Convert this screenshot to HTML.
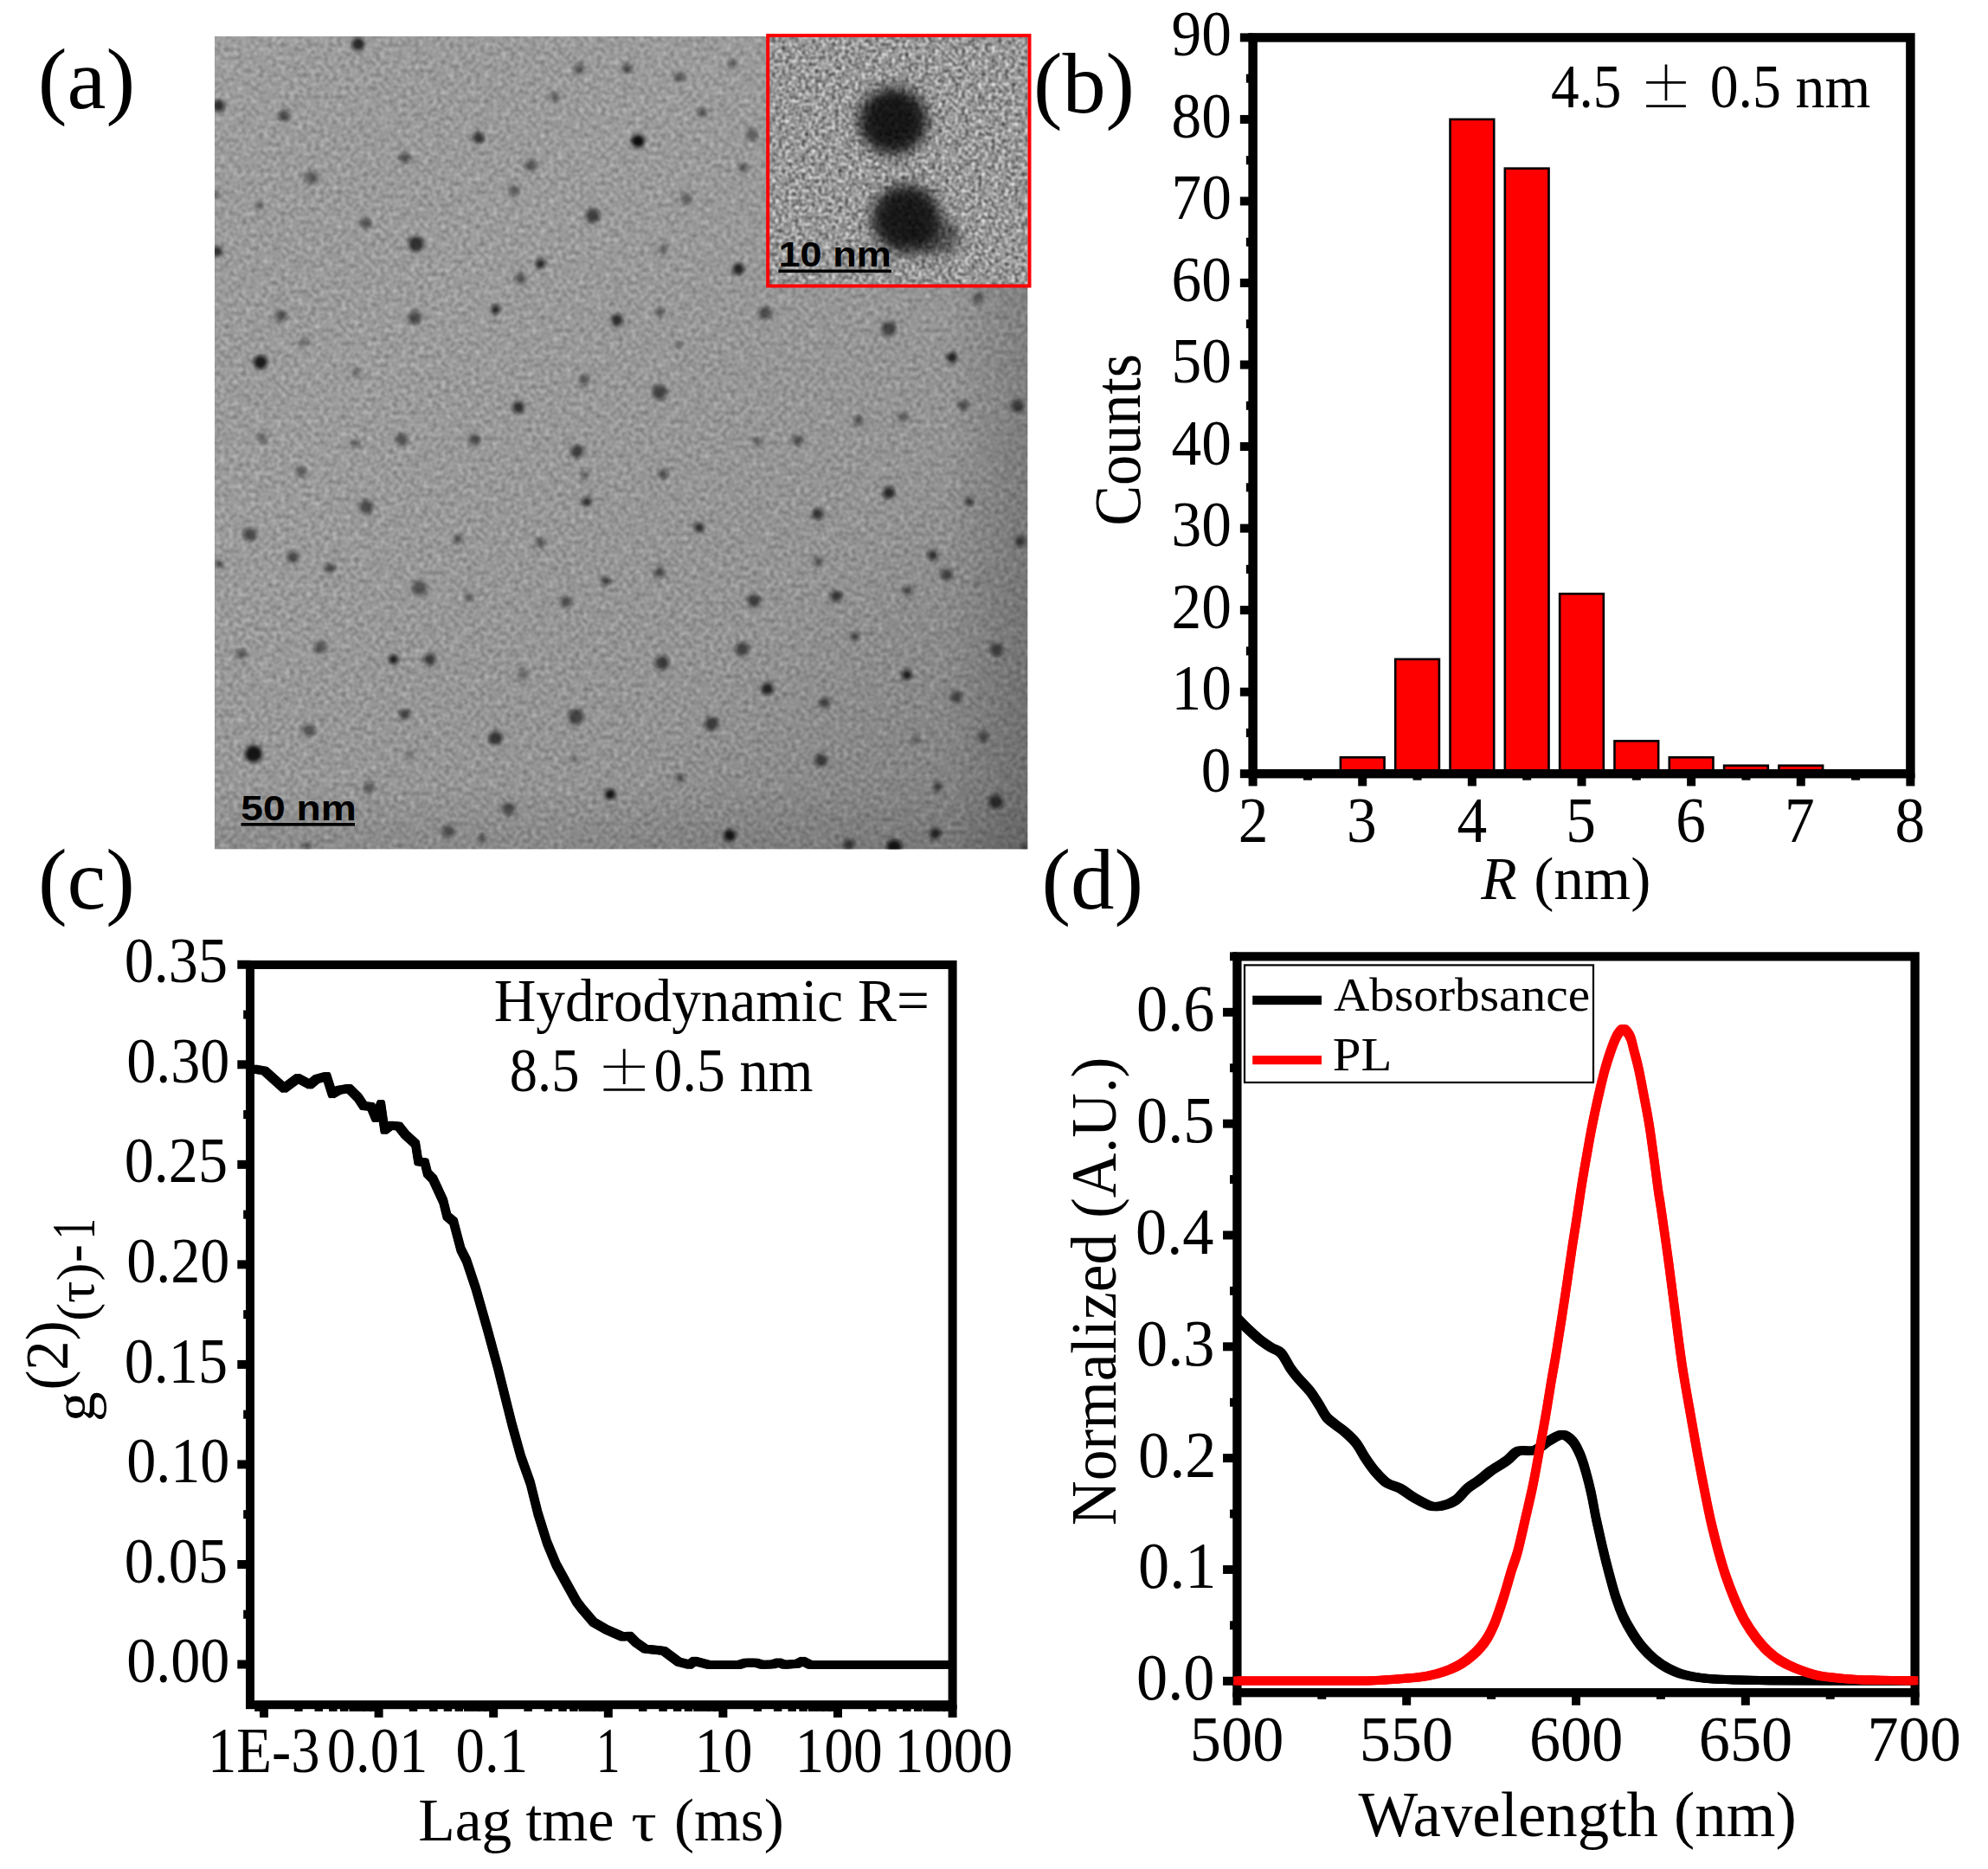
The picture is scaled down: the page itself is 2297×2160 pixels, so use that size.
<!DOCTYPE html>
<html lang="en"><head><meta charset="utf-8"><title>Figure</title>
<style>html,body{margin:0;padding:0;background:#fff}body{width:2297px;height:2160px;overflow:hidden}svg{display:block}</style>
</head><body>
<svg width="2297" height="2160" viewBox="0 0 2297 2160" font-family='"Liberation Serif", "DejaVu Serif", serif' fill="#000">
<defs>
<filter id="nz" x="0" y="0" width="100%" height="100%" color-interpolation-filters="sRGB">
<feTurbulence type="fractalNoise" baseFrequency="0.2" numOctaves="2" seed="7"/>
<feColorMatrix type="matrix" values="1.1 0 0 0 0.035  1.1 0 0 0 0.035  1.1 0 0 0 0.035  0 0 0 0 1"/>
<feGaussianBlur stdDeviation="0.8"/>
</filter>
<filter id="nz2" x="0" y="0" width="100%" height="100%" color-interpolation-filters="sRGB">
<feTurbulence type="fractalNoise" baseFrequency="0.26" numOctaves="2" seed="3"/>
<feColorMatrix type="matrix" values="1.25 0 0 0 -0.03  1.25 0 0 0 -0.03  1.25 0 0 0 -0.03  0 0 0 0 1"/>
<feGaussianBlur stdDeviation="1.0"/>
</filter>
<filter id="b1" x="-50%" y="-50%" width="200%" height="200%"><feGaussianBlur stdDeviation="1.9"/></filter>
<filter id="b2" x="-50%" y="-50%" width="200%" height="200%"><feGaussianBlur stdDeviation="7.5"/></filter>
<linearGradient id="vg" x1="0" y1="0" x2="1" y2="1">
<stop offset="0" stop-color="#fff" stop-opacity="0.03"/><stop offset="0.3" stop-color="#000" stop-opacity="0"/><stop offset="0.7" stop-color="#000" stop-opacity="0.05"/><stop offset="1" stop-color="#000" stop-opacity="0.2"/>
</linearGradient>
<linearGradient id="vg2" x1="0" y1="0" x2="1" y2="0">
<stop offset="0.9" stop-color="#000" stop-opacity="0"/><stop offset="1" stop-color="#000" stop-opacity="0.14"/>
</linearGradient>
<linearGradient id="vg3" x1="0" y1="0" x2="0" y2="1">
<stop offset="0.92" stop-color="#000" stop-opacity="0"/><stop offset="1" stop-color="#000" stop-opacity="0.08"/>
</linearGradient>
<clipPath id="ct"><rect x="248" y="42" width="939.5" height="939.5"/></clipPath>
<clipPath id="ci"><rect x="889" y="43" width="298.5" height="286"/></clipPath>
</defs>
<rect width="2297" height="2160" fill="#fff"/>
<g clip-path="url(#ct)">
<rect x="248.0" y="42.0" width="939.5" height="939.5" fill="#9f9f9f"/>
<rect x="248.0" y="42.0" width="939.5" height="939.5" filter="url(#nz)" opacity="0.38"/>
<rect x="248.0" y="42.0" width="939.5" height="939.5" fill="url(#vg)"/>
<rect x="248.0" y="42.0" width="939.5" height="939.5" fill="url(#vg2)"/>
<rect x="248.0" y="42.0" width="939.5" height="939.5" fill="url(#vg3)"/>
<g filter="url(#b1)">
<circle cx="413.9" cy="50.9" r="7.5" fill="#111" fill-opacity="0.82"/>
<circle cx="668.8" cy="80.0" r="6.2" fill="#111" fill-opacity="0.50"/>
<circle cx="724.8" cy="79.5" r="5.5" fill="#111" fill-opacity="0.36"/>
<circle cx="640.7" cy="112.1" r="5.7" fill="#111" fill-opacity="0.46"/>
<circle cx="252.8" cy="122.3" r="7.0" fill="#111" fill-opacity="0.77"/>
<circle cx="328.3" cy="133.8" r="6.7" fill="#111" fill-opacity="0.59"/>
<circle cx="553.0" cy="159.2" r="6.7" fill="#111" fill-opacity="0.73"/>
<circle cx="736.3" cy="163.0" r="7.0" fill="#111" fill-opacity="0.91"/>
<circle cx="467.9" cy="182.5" r="6.2" fill="#111" fill-opacity="0.55"/>
<circle cx="613.7" cy="191.3" r="7.0" fill="#111" fill-opacity="0.50"/>
<circle cx="359.9" cy="205.2" r="7.5" fill="#111" fill-opacity="0.50"/>
<circle cx="593.9" cy="220.7" r="6.2" fill="#111" fill-opacity="0.50"/>
<circle cx="299.4" cy="238.1" r="5.0" fill="#111" fill-opacity="0.32"/>
<circle cx="684.9" cy="249.4" r="8.2" fill="#111" fill-opacity="0.68"/>
<circle cx="422.7" cy="257.9" r="6.0" fill="#111" fill-opacity="0.59"/>
<circle cx="480.8" cy="282.0" r="9.0" fill="#111" fill-opacity="0.77"/>
<circle cx="250.7" cy="290.8" r="6.2" fill="#111" fill-opacity="0.77"/>
<circle cx="624.4" cy="304.7" r="5.7" fill="#111" fill-opacity="0.82"/>
<circle cx="601.2" cy="321.6" r="6.7" fill="#111" fill-opacity="0.50"/>
<circle cx="572.5" cy="357.7" r="5.5" fill="#111" fill-opacity="0.82"/>
<circle cx="324.5" cy="364.9" r="6.7" fill="#111" fill-opacity="0.55"/>
<circle cx="479.4" cy="367.1" r="8.0" fill="#111" fill-opacity="0.59"/>
<circle cx="713.0" cy="370.3" r="7.0" fill="#111" fill-opacity="0.50"/>
<circle cx="351.0" cy="395.2" r="5.0" fill="#111" fill-opacity="0.41"/>
<circle cx="301.0" cy="418.7" r="8.0" fill="#111" fill-opacity="0.91"/>
<circle cx="411.2" cy="430.7" r="4.5" fill="#111" fill-opacity="0.46"/>
<circle cx="675.5" cy="438.8" r="6.2" fill="#111" fill-opacity="0.50"/>
<circle cx="599.0" cy="470.9" r="7.0" fill="#111" fill-opacity="0.77"/>
<circle cx="303.4" cy="506.2" r="5.5" fill="#111" fill-opacity="0.46"/>
<circle cx="464.2" cy="508.1" r="7.0" fill="#111" fill-opacity="0.55"/>
<circle cx="411.2" cy="512.3" r="5.0" fill="#111" fill-opacity="0.46"/>
<circle cx="548.2" cy="508.3" r="6.7" fill="#111" fill-opacity="0.59"/>
<circle cx="666.7" cy="521.7" r="7.5" fill="#111" fill-opacity="0.68"/>
<circle cx="341.7" cy="78.2" r="2.5" fill="#111" fill-opacity="0.32"/>
<circle cx="249.4" cy="225.3" r="3.7" fill="#111" fill-opacity="0.50"/>
<circle cx="724.6" cy="79.5" r="5.5" fill="#111" fill-opacity="0.41"/>
<circle cx="785.1" cy="88.9" r="6.2" fill="#111" fill-opacity="0.50"/>
<circle cx="846.6" cy="73.6" r="5.0" fill="#111" fill-opacity="0.46"/>
<circle cx="811.6" cy="129.8" r="5.5" fill="#111" fill-opacity="0.50"/>
<circle cx="737.5" cy="163.0" r="7.5" fill="#111" fill-opacity="0.91"/>
<circle cx="869.1" cy="155.7" r="7.0" fill="#111" fill-opacity="0.46"/>
<circle cx="858.6" cy="193.2" r="5.0" fill="#111" fill-opacity="0.55"/>
<circle cx="793.1" cy="229.3" r="6.5" fill="#111" fill-opacity="0.46"/>
<circle cx="766.3" cy="287.6" r="5.5" fill="#111" fill-opacity="0.41"/>
<circle cx="853.3" cy="310.9" r="6.7" fill="#111" fill-opacity="0.86"/>
<circle cx="762.9" cy="360.4" r="5.0" fill="#111" fill-opacity="0.50"/>
<circle cx="712.8" cy="369.8" r="7.0" fill="#111" fill-opacity="0.55"/>
<circle cx="884.1" cy="361.7" r="7.5" fill="#111" fill-opacity="0.59"/>
<circle cx="784.5" cy="398.6" r="4.0" fill="#111" fill-opacity="0.41"/>
<circle cx="1130.7" cy="344.3" r="7.0" fill="#111" fill-opacity="0.46"/>
<circle cx="1026.9" cy="379.9" r="8.7" fill="#111" fill-opacity="0.64"/>
<circle cx="1099.9" cy="413.1" r="6.2" fill="#111" fill-opacity="0.86"/>
<circle cx="762.1" cy="453.2" r="8.7" fill="#111" fill-opacity="0.64"/>
<circle cx="1113.3" cy="468.7" r="6.2" fill="#111" fill-opacity="0.55"/>
<circle cx="1175.7" cy="469.5" r="7.5" fill="#111" fill-opacity="0.68"/>
<circle cx="992.1" cy="486.1" r="5.5" fill="#111" fill-opacity="0.55"/>
<circle cx="1043.2" cy="481.6" r="5.5" fill="#111" fill-opacity="0.50"/>
<circle cx="875.2" cy="510.2" r="5.0" fill="#111" fill-opacity="0.46"/>
<circle cx="921.5" cy="508.9" r="6.2" fill="#111" fill-opacity="0.55"/>
<circle cx="347.8" cy="544.9" r="6.0" fill="#111" fill-opacity="0.50"/>
<circle cx="676.1" cy="549.5" r="4.5" fill="#111" fill-opacity="0.46"/>
<circle cx="677.9" cy="579.5" r="5.5" fill="#111" fill-opacity="0.77"/>
<circle cx="423.3" cy="586.1" r="8.2" fill="#111" fill-opacity="0.59"/>
<circle cx="289.0" cy="617.7" r="8.0" fill="#111" fill-opacity="0.59"/>
<circle cx="529.5" cy="623.1" r="5.5" fill="#111" fill-opacity="0.50"/>
<circle cx="624.4" cy="627.1" r="5.0" fill="#111" fill-opacity="0.59"/>
<circle cx="338.4" cy="643.9" r="7.0" fill="#111" fill-opacity="0.59"/>
<circle cx="253.4" cy="651.7" r="5.0" fill="#111" fill-opacity="0.55"/>
<circle cx="381.3" cy="656.5" r="6.0" fill="#111" fill-opacity="0.59"/>
<circle cx="699.3" cy="671.2" r="5.5" fill="#111" fill-opacity="0.50"/>
<circle cx="484.8" cy="679.8" r="8.7" fill="#111" fill-opacity="0.55"/>
<circle cx="541.8" cy="690.7" r="5.0" fill="#111" fill-opacity="0.50"/>
<circle cx="654.1" cy="695.8" r="6.7" fill="#111" fill-opacity="0.55"/>
<circle cx="278.8" cy="756.0" r="6.0" fill="#111" fill-opacity="0.50"/>
<circle cx="370.3" cy="748.0" r="7.0" fill="#111" fill-opacity="0.55"/>
<circle cx="454.8" cy="762.2" r="5.5" fill="#111" fill-opacity="0.91"/>
<circle cx="496.8" cy="762.2" r="7.0" fill="#111" fill-opacity="0.68"/>
<circle cx="603.8" cy="779.0" r="6.0" fill="#111" fill-opacity="0.41"/>
<circle cx="467.4" cy="825.6" r="6.0" fill="#111" fill-opacity="0.68"/>
<circle cx="665.4" cy="828.5" r="9.0" fill="#111" fill-opacity="0.64"/>
<circle cx="356.9" cy="843.8" r="7.5" fill="#111" fill-opacity="0.50"/>
<circle cx="572.5" cy="853.1" r="8.0" fill="#111" fill-opacity="0.73"/>
<circle cx="293.0" cy="871.3" r="10.0" fill="#111" fill-opacity="0.95"/>
<circle cx="472.7" cy="871.3" r="5.0" fill="#111" fill-opacity="0.28"/>
<circle cx="664.0" cy="877.2" r="4.5" fill="#111" fill-opacity="0.32"/>
<circle cx="426.7" cy="910.1" r="6.5" fill="#111" fill-opacity="0.50"/>
<circle cx="705.0" cy="918.1" r="6.2" fill="#111" fill-opacity="0.77"/>
<circle cx="587.8" cy="934.7" r="7.5" fill="#111" fill-opacity="0.59"/>
<circle cx="518.2" cy="960.7" r="7.0" fill="#111" fill-opacity="0.55"/>
<circle cx="557.0" cy="968.2" r="5.0" fill="#111" fill-opacity="0.50"/>
<circle cx="354.5" cy="977.5" r="4.5" fill="#111" fill-opacity="0.46"/>
<circle cx="766.1" cy="548.2" r="5.5" fill="#111" fill-opacity="0.59"/>
<circle cx="1026.9" cy="569.6" r="7.0" fill="#111" fill-opacity="0.82"/>
<circle cx="1120.0" cy="579.5" r="5.0" fill="#111" fill-opacity="0.68"/>
<circle cx="944.8" cy="594.2" r="6.7" fill="#111" fill-opacity="0.73"/>
<circle cx="807.8" cy="609.7" r="5.7" fill="#111" fill-opacity="0.77"/>
<circle cx="1178.9" cy="625.7" r="6.5" fill="#111" fill-opacity="0.64"/>
<circle cx="1077.7" cy="641.8" r="6.0" fill="#111" fill-opacity="0.73"/>
<circle cx="945.3" cy="649.0" r="5.5" fill="#111" fill-opacity="0.50"/>
<circle cx="762.1" cy="661.3" r="6.5" fill="#111" fill-opacity="0.55"/>
<circle cx="1093.8" cy="664.0" r="7.0" fill="#111" fill-opacity="0.64"/>
<circle cx="702.1" cy="671.2" r="3.7" fill="#111" fill-opacity="0.50"/>
<circle cx="1048.6" cy="682.5" r="6.0" fill="#111" fill-opacity="0.55"/>
<circle cx="966.2" cy="689.1" r="6.7" fill="#111" fill-opacity="0.73"/>
<circle cx="871.2" cy="694.0" r="7.5" fill="#111" fill-opacity="0.68"/>
<circle cx="987.6" cy="735.4" r="5.0" fill="#111" fill-opacity="0.64"/>
<circle cx="857.8" cy="750.1" r="8.0" fill="#111" fill-opacity="0.64"/>
<circle cx="1151.6" cy="750.7" r="7.5" fill="#111" fill-opacity="0.64"/>
<circle cx="765.0" cy="766.2" r="8.2" fill="#111" fill-opacity="0.68"/>
<circle cx="1047.8" cy="780.1" r="5.7" fill="#111" fill-opacity="0.91"/>
<circle cx="886.7" cy="796.1" r="7.0" fill="#111" fill-opacity="0.86"/>
<circle cx="1104.8" cy="805.5" r="7.0" fill="#111" fill-opacity="0.59"/>
<circle cx="952.8" cy="812.2" r="6.2" fill="#111" fill-opacity="0.64"/>
<circle cx="822.3" cy="836.5" r="8.0" fill="#111" fill-opacity="0.68"/>
<circle cx="1136.1" cy="851.3" r="6.5" fill="#111" fill-opacity="0.55"/>
<circle cx="1057.7" cy="855.0" r="5.0" fill="#111" fill-opacity="0.41"/>
<circle cx="948.8" cy="878.5" r="7.5" fill="#111" fill-opacity="0.68"/>
<circle cx="785.1" cy="899.1" r="5.0" fill="#111" fill-opacity="0.55"/>
<circle cx="1083.4" cy="909.3" r="5.5" fill="#111" fill-opacity="0.64"/>
<circle cx="705.4" cy="918.1" r="6.0" fill="#111" fill-opacity="0.82"/>
<circle cx="1150.8" cy="926.7" r="8.2" fill="#111" fill-opacity="0.77"/>
<circle cx="843.1" cy="965.5" r="7.0" fill="#111" fill-opacity="0.95"/>
<circle cx="1080.7" cy="963.3" r="6.5" fill="#111" fill-opacity="0.82"/>
<circle cx="980.9" cy="976.2" r="6.5" fill="#111" fill-opacity="0.68"/>
<circle cx="1033.1" cy="978.9" r="8.7" fill="#111" fill-opacity="0.95"/>
<circle cx="1183.7" cy="978.9" r="3.7" fill="#111" fill-opacity="0.68"/>
<circle cx="1130.7" cy="675.2" r="3.0" fill="#111" fill-opacity="0.32"/>
</g></g>
<g clip-path="url(#ci)">
<rect x="889" y="43" width="298.5" height="286" filter="url(#nz2)"/>
<g filter="url(#b2)" fill="#000"><ellipse cx="1032" cy="140" rx="40" ry="39" fill-opacity="0.97"/><ellipse cx="1031" cy="139" rx="24" ry="24" fill-opacity="0.6"/><ellipse cx="1047" cy="253" rx="40" ry="40" fill-opacity="0.95"/><ellipse cx="1045" cy="252" rx="24" ry="24" fill-opacity="0.6"/><ellipse cx="1080" cy="274" rx="30" ry="22" fill-opacity="0.55"/></g>
<rect x="889" y="43" width="298.5" height="286" filter="url(#nz2)" opacity="0.14"/>
</g>
<rect x="887.2" y="41" width="302.3" height="289.5" fill="none" stroke="#f00" stroke-width="4"/>
<text transform="translate(278.19 947.90) scale(1.1559 1)" font-size="40" font-family='"Liberation Sans", "DejaVu Sans", sans-serif' font-weight='bold'>50 nm</text>
<rect x="278.5" y="951" width="131.5" height="3.6" fill="#000"/>
<text transform="translate(899.41 308.00) scale(1.1291 1)" font-size="40" font-family='"Liberation Sans", "DejaVu Sans", sans-serif' font-weight='bold'>10 nm</text>
<rect x="899.5" y="311.5" width="130.5" height="3.6" fill="#000"/>
<text transform="translate(43.73 125.40) scale(1.0186 1)" font-size="99.5" >(a)</text>
<text transform="translate(1193.96 130.10) scale(1.0093 1)" font-size="99.5" >(b)</text>
<text transform="translate(43.95 1050.20) scale(1.0137 1)" font-size="99.5" >(c)</text>
<text transform="translate(1203.44 1050.20) scale(1.0139 1)" font-size="99.5" >(d)</text>
<rect x="1548.88" y="875.29" width="50.7" height="18.91" fill="#f00" stroke="#000" stroke-width="2.6"/>
<rect x="1612.20" y="761.85" width="50.7" height="132.35" fill="#f00" stroke="#000" stroke-width="2.6"/>
<rect x="1675.52" y="137.93" width="50.7" height="756.27" fill="#f00" stroke="#000" stroke-width="2.6"/>
<rect x="1738.83" y="194.65" width="50.7" height="699.55" fill="#f00" stroke="#000" stroke-width="2.6"/>
<rect x="1802.15" y="686.23" width="50.7" height="207.97" fill="#f00" stroke="#000" stroke-width="2.6"/>
<rect x="1865.47" y="856.39" width="50.7" height="37.81" fill="#f00" stroke="#000" stroke-width="2.6"/>
<rect x="1928.78" y="875.29" width="50.7" height="18.91" fill="#f00" stroke="#000" stroke-width="2.6"/>
<rect x="1992.10" y="884.75" width="50.7" height="9.45" fill="#f00" stroke="#000" stroke-width="2.6"/>
<rect x="2055.42" y="884.75" width="50.7" height="9.45" fill="#f00" stroke="#000" stroke-width="2.6"/>
<rect x="1447.6" y="43.4" width="759.8000000000002" height="850.8000000000001" fill="none" stroke="#000" stroke-width="10.5"/>
<rect x="1432.85" y="889.20" width="14.75" height="10"/>
<rect x="1432.85" y="794.67" width="14.75" height="10"/>
<rect x="1432.85" y="700.13" width="14.75" height="10"/>
<rect x="1432.85" y="605.60" width="14.75" height="10"/>
<rect x="1432.85" y="511.07" width="14.75" height="10"/>
<rect x="1432.85" y="416.53" width="14.75" height="10"/>
<rect x="1432.85" y="322.00" width="14.75" height="10"/>
<rect x="1432.85" y="227.47" width="14.75" height="10"/>
<rect x="1432.85" y="132.93" width="14.75" height="10"/>
<rect x="1432.85" y="38.40" width="14.75" height="10"/>
<rect x="1439.85" y="841.93" width="7.75" height="10"/>
<rect x="1439.85" y="747.40" width="7.75" height="10"/>
<rect x="1439.85" y="652.87" width="7.75" height="10"/>
<rect x="1439.85" y="558.33" width="7.75" height="10"/>
<rect x="1439.85" y="463.80" width="7.75" height="10"/>
<rect x="1439.85" y="369.27" width="7.75" height="10"/>
<rect x="1439.85" y="274.73" width="7.75" height="10"/>
<rect x="1439.85" y="180.20" width="7.75" height="10"/>
<rect x="1439.85" y="85.67" width="7.75" height="10"/>
<rect x="1442.60" y="894.20" width="10" height="14.25"/>
<rect x="1569.23" y="894.20" width="10" height="14.25"/>
<rect x="1695.87" y="894.20" width="10" height="14.25"/>
<rect x="1822.50" y="894.20" width="10" height="14.25"/>
<rect x="1949.13" y="894.20" width="10" height="14.25"/>
<rect x="2075.77" y="894.20" width="10" height="14.25"/>
<rect x="2202.40" y="894.20" width="10" height="14.25"/>
<rect x="1505.92" y="894.20" width="10" height="7.45"/>
<rect x="1632.55" y="894.20" width="10" height="7.45"/>
<rect x="1759.18" y="894.20" width="10" height="7.45"/>
<rect x="1885.82" y="894.20" width="10" height="7.45"/>
<rect x="2012.45" y="894.20" width="10" height="7.45"/>
<rect x="2139.08" y="894.20" width="10" height="7.45"/>
<text transform="translate(1387.83 914.90) scale(0.9250 1)" font-size="75" >0</text>
<text transform="translate(1353.60 820.37) scale(0.9250 1)" font-size="75" >10</text>
<text transform="translate(1353.60 725.83) scale(0.9250 1)" font-size="75" >20</text>
<text transform="translate(1353.60 631.30) scale(0.9250 1)" font-size="75" >30</text>
<text transform="translate(1353.60 536.77) scale(0.9250 1)" font-size="75" >40</text>
<text transform="translate(1353.60 442.23) scale(0.9250 1)" font-size="75" >50</text>
<text transform="translate(1353.60 347.70) scale(0.9250 1)" font-size="75" >60</text>
<text transform="translate(1353.60 253.17) scale(0.9250 1)" font-size="75" >70</text>
<text transform="translate(1353.60 158.63) scale(0.9250 1)" font-size="75" >80</text>
<text transform="translate(1353.60 64.10) scale(0.9250 1)" font-size="75" >90</text>
<text transform="translate(1430.65 972.60) scale(0.9250 1)" font-size="75" >2</text>
<text transform="translate(1555.90 972.60) scale(0.9250 1)" font-size="75" >3</text>
<text transform="translate(1683.45 972.60) scale(0.9250 1)" font-size="75" >4</text>
<text transform="translate(1809.16 972.60) scale(0.9250 1)" font-size="75" >5</text>
<text transform="translate(1936.26 972.60) scale(0.9250 1)" font-size="75" >6</text>
<text transform="translate(2061.97 972.60) scale(0.9250 1)" font-size="75" >7</text>
<text transform="translate(2189.53 972.60) scale(0.9250 1)" font-size="75" >8</text>
<text transform="translate(1711.20 1038.80) scale(0.9683 1)" font-size="70" font-style="italic">R</text>
<text transform="translate(1772.14 1038.80) scale(0.9870 1)" font-size="70.5" >(nm)</text>
<text transform="translate(1317.20 607.87) rotate(-90) scale(0.9243 1)" font-size="76" >Counts</text>
<text transform="translate(1791.89 123.60) scale(0.9058 1)" font-size="72" >4.5</text>
<text transform="translate(1894.40 123.60) scale(0.9745 1)" font-size="62.6" font-family='"Noto Serif CJK SC", "Liberation Serif", serif'>±</text>
<text transform="translate(1975.66 123.60) scale(0.9131 1)" font-size="72" >0.5</text>
<text transform="translate(2074.56 123.80) scale(0.9709 1)" font-size="70" >nm</text>
<path id="pc" d="M292.8,1235.3 L305.7,1237.5 L328.2,1257.8 L344.2,1246.0 L358.1,1253.5 L365.6,1247.1 L377.4,1243.9 L383.8,1264.2 L391.3,1259.9 L403.1,1257.8 L413.8,1268.5 L420.2,1278.1 L428.7,1278.8 L434.1,1292.0 L440.1,1276.0 L444.4,1305.9 L451.2,1300.6 L460.8,1301.7 L468.3,1311.3 L480.1,1322.0 L483.3,1342.3 L490.8,1343.4 L494.0,1356.2 L500.4,1362.7 L512.2,1388.3 L516.5,1405.5 L524.0,1411.9 L532.5,1444.0 L539.0,1456.8 L549.7,1488.9 L562.5,1533.9 L575.3,1581.0 L580.7,1602.8 L591.4,1645.6 L602.1,1684.1 L612.8,1714.1 L621.3,1748.3 L632.0,1782.6 L642.7,1808.3 L655.6,1831.8 L666.3,1851.1 L672.7,1859.6 L685.5,1874.6 L700.5,1883.2 L719.8,1891.7 L727.3,1890.7 L734.8,1898.1 L745.5,1905.6 L766.9,1907.8 L784.0,1920.6 L796.8,1923.8 L802.2,1919.6 L818.2,1923.8 L854.6,1923.8 L861.0,1921.7 L873.9,1921.7 L880.3,1923.8 L893.1,1923.4 L899.5,1921.3 L906.0,1923.8 L921.0,1922.8 L927.4,1919.6 L935.9,1923.8 L1096.0,1923.8" fill="none" stroke="#000" stroke-width="9.8" stroke-linejoin="round" stroke-linecap="butt"/>
<g fill="none" stroke="#000" stroke-width="5.000000000000001" stroke-linejoin="round" stroke-linecap="butt">
<path d="M292.8,1235.3 L305.7,1237.5 L328.2,1257.8 L344.2,1246.0 L358.1,1253.5 L365.6,1247.1 L377.4,1243.9 L383.8,1264.2 L391.3,1259.9 L403.1,1257.8 L413.8,1268.5 L420.2,1278.1 L428.7,1278.8 L434.1,1292.0 L440.1,1276.0 L444.4,1305.9 L451.2,1300.6 L460.8,1301.7 L468.3,1311.3 L480.1,1322.0 L483.3,1342.3 L490.8,1343.4 L494.0,1356.2 L500.4,1362.7 L512.2,1388.3 L516.5,1405.5 L524.0,1411.9 L532.5,1444.0 L539.0,1456.8 L549.7,1488.9 L562.5,1533.9 L575.3,1581.0 L580.7,1602.8 L591.4,1645.6 L602.1,1684.1 L612.8,1714.1 L621.3,1748.3 L632.0,1782.6 L642.7,1808.3 L655.6,1831.8 L666.3,1851.1 L672.7,1859.6 L685.5,1874.6 L700.5,1883.2 L719.8,1891.7 L727.3,1890.7 L734.8,1898.1 L745.5,1905.6 L766.9,1907.8 L784.0,1920.6 L796.8,1923.8 L802.2,1919.6 L818.2,1923.8 L854.6,1923.8 L861.0,1921.7 L873.9,1921.7 L880.3,1923.8 L893.1,1923.4 L899.5,1921.3 L906.0,1923.8 L921.0,1922.8 L927.4,1919.6 L935.9,1923.8 L1096.0,1923.8" transform="translate(2.4 2.4)"/>
<path d="M292.8,1235.3 L305.7,1237.5 L328.2,1257.8 L344.2,1246.0 L358.1,1253.5 L365.6,1247.1 L377.4,1243.9 L383.8,1264.2 L391.3,1259.9 L403.1,1257.8 L413.8,1268.5 L420.2,1278.1 L428.7,1278.8 L434.1,1292.0 L440.1,1276.0 L444.4,1305.9 L451.2,1300.6 L460.8,1301.7 L468.3,1311.3 L480.1,1322.0 L483.3,1342.3 L490.8,1343.4 L494.0,1356.2 L500.4,1362.7 L512.2,1388.3 L516.5,1405.5 L524.0,1411.9 L532.5,1444.0 L539.0,1456.8 L549.7,1488.9 L562.5,1533.9 L575.3,1581.0 L580.7,1602.8 L591.4,1645.6 L602.1,1684.1 L612.8,1714.1 L621.3,1748.3 L632.0,1782.6 L642.7,1808.3 L655.6,1831.8 L666.3,1851.1 L672.7,1859.6 L685.5,1874.6 L700.5,1883.2 L719.8,1891.7 L727.3,1890.7 L734.8,1898.1 L745.5,1905.6 L766.9,1907.8 L784.0,1920.6 L796.8,1923.8 L802.2,1919.6 L818.2,1923.8 L854.6,1923.8 L861.0,1921.7 L873.9,1921.7 L880.3,1923.8 L893.1,1923.4 L899.5,1921.3 L906.0,1923.8 L921.0,1922.8 L927.4,1919.6 L935.9,1923.8 L1096.0,1923.8" transform="translate(2.4 -2.4)"/>
<path d="M292.8,1235.3 L305.7,1237.5 L328.2,1257.8 L344.2,1246.0 L358.1,1253.5 L365.6,1247.1 L377.4,1243.9 L383.8,1264.2 L391.3,1259.9 L403.1,1257.8 L413.8,1268.5 L420.2,1278.1 L428.7,1278.8 L434.1,1292.0 L440.1,1276.0 L444.4,1305.9 L451.2,1300.6 L460.8,1301.7 L468.3,1311.3 L480.1,1322.0 L483.3,1342.3 L490.8,1343.4 L494.0,1356.2 L500.4,1362.7 L512.2,1388.3 L516.5,1405.5 L524.0,1411.9 L532.5,1444.0 L539.0,1456.8 L549.7,1488.9 L562.5,1533.9 L575.3,1581.0 L580.7,1602.8 L591.4,1645.6 L602.1,1684.1 L612.8,1714.1 L621.3,1748.3 L632.0,1782.6 L642.7,1808.3 L655.6,1831.8 L666.3,1851.1 L672.7,1859.6 L685.5,1874.6 L700.5,1883.2 L719.8,1891.7 L727.3,1890.7 L734.8,1898.1 L745.5,1905.6 L766.9,1907.8 L784.0,1920.6 L796.8,1923.8 L802.2,1919.6 L818.2,1923.8 L854.6,1923.8 L861.0,1921.7 L873.9,1921.7 L880.3,1923.8 L893.1,1923.4 L899.5,1921.3 L906.0,1923.8 L921.0,1922.8 L927.4,1919.6 L935.9,1923.8 L1096.0,1923.8" transform="translate(-2.4 2.4)"/>
<path d="M292.8,1235.3 L305.7,1237.5 L328.2,1257.8 L344.2,1246.0 L358.1,1253.5 L365.6,1247.1 L377.4,1243.9 L383.8,1264.2 L391.3,1259.9 L403.1,1257.8 L413.8,1268.5 L420.2,1278.1 L428.7,1278.8 L434.1,1292.0 L440.1,1276.0 L444.4,1305.9 L451.2,1300.6 L460.8,1301.7 L468.3,1311.3 L480.1,1322.0 L483.3,1342.3 L490.8,1343.4 L494.0,1356.2 L500.4,1362.7 L512.2,1388.3 L516.5,1405.5 L524.0,1411.9 L532.5,1444.0 L539.0,1456.8 L549.7,1488.9 L562.5,1533.9 L575.3,1581.0 L580.7,1602.8 L591.4,1645.6 L602.1,1684.1 L612.8,1714.1 L621.3,1748.3 L632.0,1782.6 L642.7,1808.3 L655.6,1831.8 L666.3,1851.1 L672.7,1859.6 L685.5,1874.6 L700.5,1883.2 L719.8,1891.7 L727.3,1890.7 L734.8,1898.1 L745.5,1905.6 L766.9,1907.8 L784.0,1920.6 L796.8,1923.8 L802.2,1919.6 L818.2,1923.8 L854.6,1923.8 L861.0,1921.7 L873.9,1921.7 L880.3,1923.8 L893.1,1923.4 L899.5,1921.3 L906.0,1923.8 L921.0,1922.8 L927.4,1919.6 L935.9,1923.8 L1096.0,1923.8" transform="translate(-2.4 -2.4)"/>
</g>
<rect x="289.0" y="1115.0" width="811.5999999999999" height="855.2" fill="none" stroke="#000" stroke-width="10.0"/>
<rect x="274.30" y="1918.50" width="14.70" height="10"/>
<rect x="274.30" y="1802.97" width="14.70" height="10"/>
<rect x="274.30" y="1687.44" width="14.70" height="10"/>
<rect x="274.30" y="1571.91" width="14.70" height="10"/>
<rect x="274.30" y="1456.38" width="14.70" height="10"/>
<rect x="274.30" y="1340.85" width="14.70" height="10"/>
<rect x="274.30" y="1225.32" width="14.70" height="10"/>
<rect x="274.30" y="1109.79" width="14.70" height="10"/>
<rect x="281.20" y="1860.73" width="7.80" height="10"/>
<rect x="281.20" y="1745.20" width="7.80" height="10"/>
<rect x="281.20" y="1629.67" width="7.80" height="10"/>
<rect x="281.20" y="1514.14" width="7.80" height="10"/>
<rect x="281.20" y="1398.62" width="7.80" height="10"/>
<rect x="281.20" y="1283.09" width="7.80" height="10"/>
<rect x="281.20" y="1167.55" width="7.80" height="10"/>
<rect x="300.00" y="1970.20" width="10" height="14.70"/>
<rect x="432.60" y="1970.20" width="10" height="14.70"/>
<rect x="565.20" y="1970.20" width="10" height="14.70"/>
<rect x="697.80" y="1970.20" width="10" height="14.70"/>
<rect x="830.40" y="1970.20" width="10" height="14.70"/>
<rect x="963.00" y="1970.20" width="10" height="14.70"/>
<rect x="1095.60" y="1970.20" width="10" height="14.70"/>
<rect x="294.18" y="1970.20" width="9.5" height="7.60"/>
<rect x="340.17" y="1970.20" width="9.5" height="7.60"/>
<rect x="363.52" y="1970.20" width="9.5" height="7.60"/>
<rect x="380.08" y="1970.20" width="9.5" height="7.60"/>
<rect x="392.93" y="1970.20" width="9.5" height="7.60"/>
<rect x="403.43" y="1970.20" width="9.5" height="7.60"/>
<rect x="412.31" y="1970.20" width="9.5" height="7.60"/>
<rect x="420.00" y="1970.20" width="9.5" height="7.60"/>
<rect x="426.78" y="1970.20" width="9.5" height="7.60"/>
<rect x="472.77" y="1970.20" width="9.5" height="7.60"/>
<rect x="496.12" y="1970.20" width="9.5" height="7.60"/>
<rect x="512.68" y="1970.20" width="9.5" height="7.60"/>
<rect x="525.53" y="1970.20" width="9.5" height="7.60"/>
<rect x="536.03" y="1970.20" width="9.5" height="7.60"/>
<rect x="544.91" y="1970.20" width="9.5" height="7.60"/>
<rect x="552.60" y="1970.20" width="9.5" height="7.60"/>
<rect x="559.38" y="1970.20" width="9.5" height="7.60"/>
<rect x="605.37" y="1970.20" width="9.5" height="7.60"/>
<rect x="628.72" y="1970.20" width="9.5" height="7.60"/>
<rect x="645.28" y="1970.20" width="9.5" height="7.60"/>
<rect x="658.13" y="1970.20" width="9.5" height="7.60"/>
<rect x="668.63" y="1970.20" width="9.5" height="7.60"/>
<rect x="677.51" y="1970.20" width="9.5" height="7.60"/>
<rect x="685.20" y="1970.20" width="9.5" height="7.60"/>
<rect x="691.98" y="1970.20" width="9.5" height="7.60"/>
<rect x="737.97" y="1970.20" width="9.5" height="7.60"/>
<rect x="761.32" y="1970.20" width="9.5" height="7.60"/>
<rect x="777.88" y="1970.20" width="9.5" height="7.60"/>
<rect x="790.73" y="1970.20" width="9.5" height="7.60"/>
<rect x="801.23" y="1970.20" width="9.5" height="7.60"/>
<rect x="810.11" y="1970.20" width="9.5" height="7.60"/>
<rect x="817.80" y="1970.20" width="9.5" height="7.60"/>
<rect x="824.58" y="1970.20" width="9.5" height="7.60"/>
<rect x="870.57" y="1970.20" width="9.5" height="7.60"/>
<rect x="893.92" y="1970.20" width="9.5" height="7.60"/>
<rect x="910.48" y="1970.20" width="9.5" height="7.60"/>
<rect x="923.33" y="1970.20" width="9.5" height="7.60"/>
<rect x="933.83" y="1970.20" width="9.5" height="7.60"/>
<rect x="942.71" y="1970.20" width="9.5" height="7.60"/>
<rect x="950.40" y="1970.20" width="9.5" height="7.60"/>
<rect x="957.18" y="1970.20" width="9.5" height="7.60"/>
<rect x="1003.17" y="1970.20" width="9.5" height="7.60"/>
<rect x="1026.52" y="1970.20" width="9.5" height="7.60"/>
<rect x="1043.08" y="1970.20" width="9.5" height="7.60"/>
<rect x="1055.93" y="1970.20" width="9.5" height="7.60"/>
<rect x="1066.43" y="1970.20" width="9.5" height="7.60"/>
<rect x="1075.31" y="1970.20" width="9.5" height="7.60"/>
<rect x="1083.00" y="1970.20" width="9.5" height="7.60"/>
<rect x="1089.78" y="1970.20" width="9.5" height="7.60"/>
<text transform="translate(146.15 1944.10) scale(0.9090 1)" font-size="75" >0.00</text>
<text transform="translate(143.75 1828.57) scale(0.9090 1)" font-size="75" >0.05</text>
<text transform="translate(146.15 1713.04) scale(0.9090 1)" font-size="75" >0.10</text>
<text transform="translate(143.75 1597.51) scale(0.9090 1)" font-size="75" >0.15</text>
<text transform="translate(146.15 1481.98) scale(0.9090 1)" font-size="75" >0.20</text>
<text transform="translate(143.75 1366.45) scale(0.9090 1)" font-size="75" >0.25</text>
<text transform="translate(146.15 1250.92) scale(0.9090 1)" font-size="75" >0.30</text>
<text transform="translate(143.75 1135.39) scale(0.9090 1)" font-size="75" >0.35</text>
<text transform="translate(240.04 2047.80) scale(0.8948 1)" font-size="74.5" >1E-3</text>
<text transform="translate(377.72 2047.80) scale(0.8935 1)" font-size="74.5" >0.01</text>
<text transform="translate(526.61 2047.80) scale(0.8977 1)" font-size="74.5" >0.1</text>
<text transform="translate(688.78 2047.80) scale(0.7462 1)" font-size="74.5" >1</text>
<text transform="translate(802.39 2047.80) scale(0.9015 1)" font-size="74.5" >10</text>
<text transform="translate(918.55 2047.80) scale(0.9069 1)" font-size="74.5" >100</text>
<text transform="translate(1033.16 2047.80) scale(0.9194 1)" font-size="74.5" >1000</text>
<text transform="translate(483.21 2127.20) scale(0.9933 1)" font-size="70" >Lag</text>
<text transform="translate(607.43 2127.20) scale(0.9735 1)" font-size="70" >tme</text>
<text transform="translate(729.31 2127.20) scale(1.1455 1)" font-size="64" >τ</text>
<text transform="translate(778.95 2127.20) scale(0.9821 1)" font-size="70.5" >(ms)</text>
<text transform="translate(570.68 1179.50) scale(0.9612 1)" font-size="70" >Hydrodynamic R=</text>
<text transform="translate(588.81 1260.90) scale(0.8952 1)" font-size="72" >8.5</text>
<text transform="translate(689.48 1260.90) scale(1.0400 1)" font-size="61" font-family='"Noto Serif CJK SC", "Liberation Serif", serif'>±</text>
<text transform="translate(755.56 1260.90) scale(0.9143 1)" font-size="72" >0.5</text>
<text transform="translate(854.50 1260.90) scale(0.9500 1)" font-size="70" >nm</text>
<text transform="translate(109.30 1643.10) rotate(-90) scale(1.0345 1)" font-size="67" >g</text>
<text transform="translate(78.40 1606.59) rotate(-90) scale(0.9973 1)" font-size="69" >(2)</text>
<text transform="translate(108.20 1526.87) rotate(-90) scale(1.0233 1)" font-size="61.5" >(τ)</text>
<text transform="translate(108.30 1459.08) rotate(-90) scale(0.8944 1)" font-size="70" >-</text>
<text transform="translate(108.50 1432.14) rotate(-90) scale(0.6731 1)" font-size="72" >1</text>
<path id="pa" d="M1429.4,1523.6 C1431.2,1525.4 1435.9,1530.3 1440.1,1534.3 C1444.3,1538.3 1450.1,1543.8 1454.8,1547.6 C1459.5,1551.4 1464.0,1554.3 1468.2,1557.0 C1472.4,1559.7 1476.4,1559.7 1480.2,1563.7 C1484.0,1567.7 1487.6,1576.2 1490.9,1581.1 C1494.2,1586.0 1496.5,1588.6 1500.3,1593.1 C1504.1,1597.5 1509.6,1602.7 1513.6,1607.8 C1517.6,1612.9 1521.2,1619.0 1524.3,1623.9 C1527.4,1628.8 1529.3,1633.5 1532.4,1637.3 C1535.5,1641.1 1539.5,1643.7 1543.1,1646.6 C1546.7,1649.5 1549.8,1651.1 1553.8,1654.7 C1557.8,1658.3 1563.1,1662.9 1567.1,1668.0 C1571.1,1673.1 1574.2,1680.1 1577.8,1685.4 C1581.4,1690.8 1584.5,1695.4 1588.5,1700.1 C1592.5,1704.8 1597.0,1710.2 1601.9,1713.5 C1606.8,1716.8 1612.7,1717.3 1618.0,1720.2 C1623.3,1723.1 1628.2,1727.6 1634.0,1730.9 C1639.8,1734.2 1647.4,1738.7 1652.7,1740.3 C1658.0,1741.9 1661.2,1741.4 1666.1,1740.3 C1671.0,1739.2 1677.3,1736.9 1682.2,1733.6 C1687.1,1730.2 1691.0,1724.0 1695.5,1720.2 C1700.0,1716.4 1704.4,1714.2 1708.9,1710.8 C1713.4,1707.4 1717.0,1703.9 1722.3,1700.1 C1727.6,1696.3 1735.7,1692.0 1741.0,1688.1 C1746.3,1684.2 1749.1,1678.9 1754.4,1676.9 C1759.8,1674.9 1767.3,1678.0 1773.1,1676.1 C1778.9,1674.2 1783.9,1668.4 1789.2,1665.4 C1794.5,1662.4 1800.4,1658.0 1805.1,1658.0 C1809.8,1658.0 1813.7,1661.9 1817.1,1665.7 C1820.5,1669.5 1823.1,1675.1 1825.7,1681.1 C1828.3,1687.1 1830.4,1694.2 1832.5,1701.6 C1834.6,1709.0 1836.5,1716.5 1838.5,1725.6 C1840.5,1734.7 1842.3,1746.1 1844.5,1756.4 C1846.7,1766.7 1849.0,1777.0 1851.4,1787.3 C1853.8,1797.6 1856.5,1808.4 1859.1,1818.1 C1861.7,1827.8 1864.1,1837.2 1866.8,1845.5 C1869.5,1853.8 1872.2,1860.9 1875.3,1867.7 C1878.4,1874.5 1881.9,1880.6 1885.6,1886.6 C1889.3,1892.6 1893.3,1898.6 1897.6,1903.7 C1901.9,1908.8 1906.4,1913.4 1911.3,1917.4 C1916.2,1921.4 1921.0,1924.7 1926.7,1927.7 C1932.4,1930.7 1938.1,1933.4 1945.5,1935.4 C1952.9,1937.4 1961.2,1938.7 1971.2,1939.7 C1981.2,1940.7 1991.2,1941.0 2005.5,1941.4 C2019.8,1941.8 2022.7,1942.0 2056.8,1942.2 C2090.9,1942.4 2184.5,1942.5 2210.0,1942.5" fill="none" stroke="#000" stroke-width="10.0" stroke-linejoin="round" stroke-linecap="butt"/>
<g fill="none" stroke="#000" stroke-width="5.0" stroke-linejoin="round" stroke-linecap="butt">
<path d="M1429.4,1523.6 C1431.2,1525.4 1435.9,1530.3 1440.1,1534.3 C1444.3,1538.3 1450.1,1543.8 1454.8,1547.6 C1459.5,1551.4 1464.0,1554.3 1468.2,1557.0 C1472.4,1559.7 1476.4,1559.7 1480.2,1563.7 C1484.0,1567.7 1487.6,1576.2 1490.9,1581.1 C1494.2,1586.0 1496.5,1588.6 1500.3,1593.1 C1504.1,1597.5 1509.6,1602.7 1513.6,1607.8 C1517.6,1612.9 1521.2,1619.0 1524.3,1623.9 C1527.4,1628.8 1529.3,1633.5 1532.4,1637.3 C1535.5,1641.1 1539.5,1643.7 1543.1,1646.6 C1546.7,1649.5 1549.8,1651.1 1553.8,1654.7 C1557.8,1658.3 1563.1,1662.9 1567.1,1668.0 C1571.1,1673.1 1574.2,1680.1 1577.8,1685.4 C1581.4,1690.8 1584.5,1695.4 1588.5,1700.1 C1592.5,1704.8 1597.0,1710.2 1601.9,1713.5 C1606.8,1716.8 1612.7,1717.3 1618.0,1720.2 C1623.3,1723.1 1628.2,1727.6 1634.0,1730.9 C1639.8,1734.2 1647.4,1738.7 1652.7,1740.3 C1658.0,1741.9 1661.2,1741.4 1666.1,1740.3 C1671.0,1739.2 1677.3,1736.9 1682.2,1733.6 C1687.1,1730.2 1691.0,1724.0 1695.5,1720.2 C1700.0,1716.4 1704.4,1714.2 1708.9,1710.8 C1713.4,1707.4 1717.0,1703.9 1722.3,1700.1 C1727.6,1696.3 1735.7,1692.0 1741.0,1688.1 C1746.3,1684.2 1749.1,1678.9 1754.4,1676.9 C1759.8,1674.9 1767.3,1678.0 1773.1,1676.1 C1778.9,1674.2 1783.9,1668.4 1789.2,1665.4 C1794.5,1662.4 1800.4,1658.0 1805.1,1658.0 C1809.8,1658.0 1813.7,1661.9 1817.1,1665.7 C1820.5,1669.5 1823.1,1675.1 1825.7,1681.1 C1828.3,1687.1 1830.4,1694.2 1832.5,1701.6 C1834.6,1709.0 1836.5,1716.5 1838.5,1725.6 C1840.5,1734.7 1842.3,1746.1 1844.5,1756.4 C1846.7,1766.7 1849.0,1777.0 1851.4,1787.3 C1853.8,1797.6 1856.5,1808.4 1859.1,1818.1 C1861.7,1827.8 1864.1,1837.2 1866.8,1845.5 C1869.5,1853.8 1872.2,1860.9 1875.3,1867.7 C1878.4,1874.5 1881.9,1880.6 1885.6,1886.6 C1889.3,1892.6 1893.3,1898.6 1897.6,1903.7 C1901.9,1908.8 1906.4,1913.4 1911.3,1917.4 C1916.2,1921.4 1921.0,1924.7 1926.7,1927.7 C1932.4,1930.7 1938.1,1933.4 1945.5,1935.4 C1952.9,1937.4 1961.2,1938.7 1971.2,1939.7 C1981.2,1940.7 1991.2,1941.0 2005.5,1941.4 C2019.8,1941.8 2022.7,1942.0 2056.8,1942.2 C2090.9,1942.4 2184.5,1942.5 2210.0,1942.5" transform="translate(2.5 2.5)"/>
<path d="M1429.4,1523.6 C1431.2,1525.4 1435.9,1530.3 1440.1,1534.3 C1444.3,1538.3 1450.1,1543.8 1454.8,1547.6 C1459.5,1551.4 1464.0,1554.3 1468.2,1557.0 C1472.4,1559.7 1476.4,1559.7 1480.2,1563.7 C1484.0,1567.7 1487.6,1576.2 1490.9,1581.1 C1494.2,1586.0 1496.5,1588.6 1500.3,1593.1 C1504.1,1597.5 1509.6,1602.7 1513.6,1607.8 C1517.6,1612.9 1521.2,1619.0 1524.3,1623.9 C1527.4,1628.8 1529.3,1633.5 1532.4,1637.3 C1535.5,1641.1 1539.5,1643.7 1543.1,1646.6 C1546.7,1649.5 1549.8,1651.1 1553.8,1654.7 C1557.8,1658.3 1563.1,1662.9 1567.1,1668.0 C1571.1,1673.1 1574.2,1680.1 1577.8,1685.4 C1581.4,1690.8 1584.5,1695.4 1588.5,1700.1 C1592.5,1704.8 1597.0,1710.2 1601.9,1713.5 C1606.8,1716.8 1612.7,1717.3 1618.0,1720.2 C1623.3,1723.1 1628.2,1727.6 1634.0,1730.9 C1639.8,1734.2 1647.4,1738.7 1652.7,1740.3 C1658.0,1741.9 1661.2,1741.4 1666.1,1740.3 C1671.0,1739.2 1677.3,1736.9 1682.2,1733.6 C1687.1,1730.2 1691.0,1724.0 1695.5,1720.2 C1700.0,1716.4 1704.4,1714.2 1708.9,1710.8 C1713.4,1707.4 1717.0,1703.9 1722.3,1700.1 C1727.6,1696.3 1735.7,1692.0 1741.0,1688.1 C1746.3,1684.2 1749.1,1678.9 1754.4,1676.9 C1759.8,1674.9 1767.3,1678.0 1773.1,1676.1 C1778.9,1674.2 1783.9,1668.4 1789.2,1665.4 C1794.5,1662.4 1800.4,1658.0 1805.1,1658.0 C1809.8,1658.0 1813.7,1661.9 1817.1,1665.7 C1820.5,1669.5 1823.1,1675.1 1825.7,1681.1 C1828.3,1687.1 1830.4,1694.2 1832.5,1701.6 C1834.6,1709.0 1836.5,1716.5 1838.5,1725.6 C1840.5,1734.7 1842.3,1746.1 1844.5,1756.4 C1846.7,1766.7 1849.0,1777.0 1851.4,1787.3 C1853.8,1797.6 1856.5,1808.4 1859.1,1818.1 C1861.7,1827.8 1864.1,1837.2 1866.8,1845.5 C1869.5,1853.8 1872.2,1860.9 1875.3,1867.7 C1878.4,1874.5 1881.9,1880.6 1885.6,1886.6 C1889.3,1892.6 1893.3,1898.6 1897.6,1903.7 C1901.9,1908.8 1906.4,1913.4 1911.3,1917.4 C1916.2,1921.4 1921.0,1924.7 1926.7,1927.7 C1932.4,1930.7 1938.1,1933.4 1945.5,1935.4 C1952.9,1937.4 1961.2,1938.7 1971.2,1939.7 C1981.2,1940.7 1991.2,1941.0 2005.5,1941.4 C2019.8,1941.8 2022.7,1942.0 2056.8,1942.2 C2090.9,1942.4 2184.5,1942.5 2210.0,1942.5" transform="translate(2.5 -2.5)"/>
<path d="M1429.4,1523.6 C1431.2,1525.4 1435.9,1530.3 1440.1,1534.3 C1444.3,1538.3 1450.1,1543.8 1454.8,1547.6 C1459.5,1551.4 1464.0,1554.3 1468.2,1557.0 C1472.4,1559.7 1476.4,1559.7 1480.2,1563.7 C1484.0,1567.7 1487.6,1576.2 1490.9,1581.1 C1494.2,1586.0 1496.5,1588.6 1500.3,1593.1 C1504.1,1597.5 1509.6,1602.7 1513.6,1607.8 C1517.6,1612.9 1521.2,1619.0 1524.3,1623.9 C1527.4,1628.8 1529.3,1633.5 1532.4,1637.3 C1535.5,1641.1 1539.5,1643.7 1543.1,1646.6 C1546.7,1649.5 1549.8,1651.1 1553.8,1654.7 C1557.8,1658.3 1563.1,1662.9 1567.1,1668.0 C1571.1,1673.1 1574.2,1680.1 1577.8,1685.4 C1581.4,1690.8 1584.5,1695.4 1588.5,1700.1 C1592.5,1704.8 1597.0,1710.2 1601.9,1713.5 C1606.8,1716.8 1612.7,1717.3 1618.0,1720.2 C1623.3,1723.1 1628.2,1727.6 1634.0,1730.9 C1639.8,1734.2 1647.4,1738.7 1652.7,1740.3 C1658.0,1741.9 1661.2,1741.4 1666.1,1740.3 C1671.0,1739.2 1677.3,1736.9 1682.2,1733.6 C1687.1,1730.2 1691.0,1724.0 1695.5,1720.2 C1700.0,1716.4 1704.4,1714.2 1708.9,1710.8 C1713.4,1707.4 1717.0,1703.9 1722.3,1700.1 C1727.6,1696.3 1735.7,1692.0 1741.0,1688.1 C1746.3,1684.2 1749.1,1678.9 1754.4,1676.9 C1759.8,1674.9 1767.3,1678.0 1773.1,1676.1 C1778.9,1674.2 1783.9,1668.4 1789.2,1665.4 C1794.5,1662.4 1800.4,1658.0 1805.1,1658.0 C1809.8,1658.0 1813.7,1661.9 1817.1,1665.7 C1820.5,1669.5 1823.1,1675.1 1825.7,1681.1 C1828.3,1687.1 1830.4,1694.2 1832.5,1701.6 C1834.6,1709.0 1836.5,1716.5 1838.5,1725.6 C1840.5,1734.7 1842.3,1746.1 1844.5,1756.4 C1846.7,1766.7 1849.0,1777.0 1851.4,1787.3 C1853.8,1797.6 1856.5,1808.4 1859.1,1818.1 C1861.7,1827.8 1864.1,1837.2 1866.8,1845.5 C1869.5,1853.8 1872.2,1860.9 1875.3,1867.7 C1878.4,1874.5 1881.9,1880.6 1885.6,1886.6 C1889.3,1892.6 1893.3,1898.6 1897.6,1903.7 C1901.9,1908.8 1906.4,1913.4 1911.3,1917.4 C1916.2,1921.4 1921.0,1924.7 1926.7,1927.7 C1932.4,1930.7 1938.1,1933.4 1945.5,1935.4 C1952.9,1937.4 1961.2,1938.7 1971.2,1939.7 C1981.2,1940.7 1991.2,1941.0 2005.5,1941.4 C2019.8,1941.8 2022.7,1942.0 2056.8,1942.2 C2090.9,1942.4 2184.5,1942.5 2210.0,1942.5" transform="translate(-2.5 2.5)"/>
<path d="M1429.4,1523.6 C1431.2,1525.4 1435.9,1530.3 1440.1,1534.3 C1444.3,1538.3 1450.1,1543.8 1454.8,1547.6 C1459.5,1551.4 1464.0,1554.3 1468.2,1557.0 C1472.4,1559.7 1476.4,1559.7 1480.2,1563.7 C1484.0,1567.7 1487.6,1576.2 1490.9,1581.1 C1494.2,1586.0 1496.5,1588.6 1500.3,1593.1 C1504.1,1597.5 1509.6,1602.7 1513.6,1607.8 C1517.6,1612.9 1521.2,1619.0 1524.3,1623.9 C1527.4,1628.8 1529.3,1633.5 1532.4,1637.3 C1535.5,1641.1 1539.5,1643.7 1543.1,1646.6 C1546.7,1649.5 1549.8,1651.1 1553.8,1654.7 C1557.8,1658.3 1563.1,1662.9 1567.1,1668.0 C1571.1,1673.1 1574.2,1680.1 1577.8,1685.4 C1581.4,1690.8 1584.5,1695.4 1588.5,1700.1 C1592.5,1704.8 1597.0,1710.2 1601.9,1713.5 C1606.8,1716.8 1612.7,1717.3 1618.0,1720.2 C1623.3,1723.1 1628.2,1727.6 1634.0,1730.9 C1639.8,1734.2 1647.4,1738.7 1652.7,1740.3 C1658.0,1741.9 1661.2,1741.4 1666.1,1740.3 C1671.0,1739.2 1677.3,1736.9 1682.2,1733.6 C1687.1,1730.2 1691.0,1724.0 1695.5,1720.2 C1700.0,1716.4 1704.4,1714.2 1708.9,1710.8 C1713.4,1707.4 1717.0,1703.9 1722.3,1700.1 C1727.6,1696.3 1735.7,1692.0 1741.0,1688.1 C1746.3,1684.2 1749.1,1678.9 1754.4,1676.9 C1759.8,1674.9 1767.3,1678.0 1773.1,1676.1 C1778.9,1674.2 1783.9,1668.4 1789.2,1665.4 C1794.5,1662.4 1800.4,1658.0 1805.1,1658.0 C1809.8,1658.0 1813.7,1661.9 1817.1,1665.7 C1820.5,1669.5 1823.1,1675.1 1825.7,1681.1 C1828.3,1687.1 1830.4,1694.2 1832.5,1701.6 C1834.6,1709.0 1836.5,1716.5 1838.5,1725.6 C1840.5,1734.7 1842.3,1746.1 1844.5,1756.4 C1846.7,1766.7 1849.0,1777.0 1851.4,1787.3 C1853.8,1797.6 1856.5,1808.4 1859.1,1818.1 C1861.7,1827.8 1864.1,1837.2 1866.8,1845.5 C1869.5,1853.8 1872.2,1860.9 1875.3,1867.7 C1878.4,1874.5 1881.9,1880.6 1885.6,1886.6 C1889.3,1892.6 1893.3,1898.6 1897.6,1903.7 C1901.9,1908.8 1906.4,1913.4 1911.3,1917.4 C1916.2,1921.4 1921.0,1924.7 1926.7,1927.7 C1932.4,1930.7 1938.1,1933.4 1945.5,1935.4 C1952.9,1937.4 1961.2,1938.7 1971.2,1939.7 C1981.2,1940.7 1991.2,1941.0 2005.5,1941.4 C2019.8,1941.8 2022.7,1942.0 2056.8,1942.2 C2090.9,1942.4 2184.5,1942.5 2210.0,1942.5" transform="translate(-2.5 -2.5)"/>
</g>
<rect x="1429.4" y="1105.4" width="783.1999999999998" height="850.8" fill="none" stroke="#000" stroke-width="10.3"/>
<rect x="1413.05" y="1937.80" width="16.35" height="10"/>
<rect x="1413.05" y="1808.97" width="16.35" height="10"/>
<rect x="1413.05" y="1680.14" width="16.35" height="10"/>
<rect x="1413.05" y="1551.31" width="16.35" height="10"/>
<rect x="1413.05" y="1422.48" width="16.35" height="10"/>
<rect x="1413.05" y="1293.65" width="16.35" height="10"/>
<rect x="1413.05" y="1164.82" width="16.35" height="10"/>
<rect x="1421.05" y="1873.38" width="8.35" height="10"/>
<rect x="1421.05" y="1744.55" width="8.35" height="10"/>
<rect x="1421.05" y="1615.72" width="8.35" height="10"/>
<rect x="1421.05" y="1486.89" width="8.35" height="10"/>
<rect x="1421.05" y="1358.07" width="8.35" height="10"/>
<rect x="1421.05" y="1229.23" width="8.35" height="10"/>
<rect x="1421.05" y="1100.40" width="8.35" height="10"/>
<rect x="1424.40" y="1956.20" width="10" height="14.55"/>
<rect x="1620.20" y="1956.20" width="10" height="14.55"/>
<rect x="1816.00" y="1956.20" width="10" height="14.55"/>
<rect x="2011.80" y="1956.20" width="10" height="14.55"/>
<rect x="2207.60" y="1956.20" width="10" height="14.55"/>
<rect x="1522.30" y="1956.20" width="10" height="7.55"/>
<rect x="1718.10" y="1956.20" width="10" height="7.55"/>
<rect x="1913.90" y="1956.20" width="10" height="7.55"/>
<rect x="2109.70" y="1956.20" width="10" height="7.55"/>
<path id="pp" d="M1427.6,1942.6 C1443.0,1942.6 1494.6,1942.6 1520.0,1942.6 C1545.4,1942.6 1565.0,1942.7 1580.0,1942.4 C1595.0,1942.1 1600.1,1941.5 1610.2,1940.8 C1620.3,1940.1 1632.0,1939.4 1640.4,1938.3 C1648.8,1937.2 1654.6,1935.8 1660.5,1934.3 C1666.4,1932.8 1670.9,1931.2 1675.6,1929.3 C1680.3,1927.4 1684.5,1925.3 1688.7,1922.7 C1692.9,1920.1 1697.0,1916.9 1700.7,1913.7 C1704.4,1910.5 1707.8,1907.1 1710.8,1903.6 C1713.8,1900.1 1716.3,1896.8 1718.8,1892.6 C1721.3,1888.4 1723.7,1883.5 1725.9,1878.5 C1728.1,1873.5 1730.1,1867.6 1731.9,1862.4 C1733.7,1857.2 1735.2,1852.7 1736.9,1847.3 C1738.6,1841.9 1740.3,1835.9 1742.0,1830.2 C1743.7,1824.5 1745.0,1819.4 1747.0,1813.1 C1749.0,1806.8 1751.1,1802.4 1753.7,1792.6 C1756.3,1782.8 1759.8,1766.9 1762.7,1754.1 C1765.7,1741.3 1768.8,1728.4 1771.4,1715.6 C1774.0,1702.8 1776.2,1689.8 1778.5,1677.0 C1780.8,1664.2 1783.3,1651.3 1785.5,1638.5 C1787.7,1625.7 1789.6,1613.1 1791.8,1600.0 C1794.0,1586.9 1796.0,1576.5 1798.7,1559.8 C1801.4,1543.1 1805.0,1520.0 1808.0,1500.1 C1811.0,1480.2 1814.5,1455.4 1816.7,1440.4 C1819.0,1425.4 1819.8,1420.8 1821.5,1410.0 C1823.2,1399.2 1824.7,1387.7 1826.6,1375.5 C1828.5,1363.3 1830.8,1349.8 1833.1,1336.9 C1835.3,1324.1 1837.5,1311.2 1840.1,1298.4 C1842.7,1285.6 1846.0,1270.6 1848.5,1259.9 C1851.0,1249.2 1852.8,1241.7 1854.9,1234.2 C1857.0,1226.7 1859.0,1220.7 1861.0,1214.9 C1863.0,1209.1 1865.2,1203.4 1867.0,1199.5 C1868.8,1195.6 1870.6,1193.2 1872.0,1191.5 C1873.4,1189.8 1874.3,1189.0 1875.5,1189.0 C1876.7,1189.0 1877.9,1189.8 1879.3,1191.5 C1880.7,1193.2 1882.6,1195.6 1884.1,1199.5 C1885.6,1203.4 1886.7,1209.1 1888.2,1214.9 C1889.7,1220.7 1891.4,1226.7 1893.1,1234.2 C1894.8,1241.7 1896.2,1249.2 1898.2,1259.9 C1900.2,1270.6 1903.2,1285.6 1905.3,1298.4 C1907.4,1311.2 1909.0,1324.1 1910.8,1336.9 C1912.6,1349.8 1914.4,1365.0 1915.9,1375.5 C1917.4,1386.0 1917.7,1385.8 1919.7,1400.0 C1921.8,1414.2 1925.5,1440.4 1928.2,1460.4 C1930.9,1480.4 1933.3,1500.2 1935.9,1520.1 C1938.5,1540.0 1940.9,1559.8 1943.9,1579.8 C1947.0,1599.8 1951.2,1622.8 1954.2,1640.0 C1957.2,1657.2 1959.4,1669.7 1961.8,1682.8 C1964.2,1695.9 1966.3,1706.5 1968.7,1718.8 C1971.1,1731.1 1973.7,1744.4 1976.4,1756.4 C1979.1,1768.4 1982.1,1780.1 1984.9,1790.7 C1987.8,1801.3 1990.3,1810.4 1993.5,1819.8 C1996.7,1829.2 2000.1,1838.3 2003.8,1847.2 C2007.5,1856.1 2011.5,1865.2 2015.8,1872.9 C2020.1,1880.6 2024.9,1887.4 2029.5,1893.4 C2034.1,1899.4 2038.7,1904.5 2043.2,1908.8 C2047.8,1913.1 2051.7,1915.9 2056.8,1919.1 C2061.9,1922.2 2066.8,1924.8 2074.0,1927.7 C2081.2,1930.6 2090.6,1934.2 2100.0,1936.2 C2109.4,1938.2 2119.9,1939.0 2130.3,1939.9 C2140.7,1940.8 2148.5,1941.2 2162.4,1941.6 C2176.3,1942.0 2205.2,1942.2 2213.8,1942.3" fill="none" stroke="#f00" stroke-width="10.0" stroke-linejoin="round" stroke-linecap="butt"/>
<g fill="none" stroke="#f00" stroke-width="5.0" stroke-linejoin="round" stroke-linecap="butt">
<path d="M1427.6,1942.6 C1443.0,1942.6 1494.6,1942.6 1520.0,1942.6 C1545.4,1942.6 1565.0,1942.7 1580.0,1942.4 C1595.0,1942.1 1600.1,1941.5 1610.2,1940.8 C1620.3,1940.1 1632.0,1939.4 1640.4,1938.3 C1648.8,1937.2 1654.6,1935.8 1660.5,1934.3 C1666.4,1932.8 1670.9,1931.2 1675.6,1929.3 C1680.3,1927.4 1684.5,1925.3 1688.7,1922.7 C1692.9,1920.1 1697.0,1916.9 1700.7,1913.7 C1704.4,1910.5 1707.8,1907.1 1710.8,1903.6 C1713.8,1900.1 1716.3,1896.8 1718.8,1892.6 C1721.3,1888.4 1723.7,1883.5 1725.9,1878.5 C1728.1,1873.5 1730.1,1867.6 1731.9,1862.4 C1733.7,1857.2 1735.2,1852.7 1736.9,1847.3 C1738.6,1841.9 1740.3,1835.9 1742.0,1830.2 C1743.7,1824.5 1745.0,1819.4 1747.0,1813.1 C1749.0,1806.8 1751.1,1802.4 1753.7,1792.6 C1756.3,1782.8 1759.8,1766.9 1762.7,1754.1 C1765.7,1741.3 1768.8,1728.4 1771.4,1715.6 C1774.0,1702.8 1776.2,1689.8 1778.5,1677.0 C1780.8,1664.2 1783.3,1651.3 1785.5,1638.5 C1787.7,1625.7 1789.6,1613.1 1791.8,1600.0 C1794.0,1586.9 1796.0,1576.5 1798.7,1559.8 C1801.4,1543.1 1805.0,1520.0 1808.0,1500.1 C1811.0,1480.2 1814.5,1455.4 1816.7,1440.4 C1819.0,1425.4 1819.8,1420.8 1821.5,1410.0 C1823.2,1399.2 1824.7,1387.7 1826.6,1375.5 C1828.5,1363.3 1830.8,1349.8 1833.1,1336.9 C1835.3,1324.1 1837.5,1311.2 1840.1,1298.4 C1842.7,1285.6 1846.0,1270.6 1848.5,1259.9 C1851.0,1249.2 1852.8,1241.7 1854.9,1234.2 C1857.0,1226.7 1859.0,1220.7 1861.0,1214.9 C1863.0,1209.1 1865.2,1203.4 1867.0,1199.5 C1868.8,1195.6 1870.6,1193.2 1872.0,1191.5 C1873.4,1189.8 1874.3,1189.0 1875.5,1189.0 C1876.7,1189.0 1877.9,1189.8 1879.3,1191.5 C1880.7,1193.2 1882.6,1195.6 1884.1,1199.5 C1885.6,1203.4 1886.7,1209.1 1888.2,1214.9 C1889.7,1220.7 1891.4,1226.7 1893.1,1234.2 C1894.8,1241.7 1896.2,1249.2 1898.2,1259.9 C1900.2,1270.6 1903.2,1285.6 1905.3,1298.4 C1907.4,1311.2 1909.0,1324.1 1910.8,1336.9 C1912.6,1349.8 1914.4,1365.0 1915.9,1375.5 C1917.4,1386.0 1917.7,1385.8 1919.7,1400.0 C1921.8,1414.2 1925.5,1440.4 1928.2,1460.4 C1930.9,1480.4 1933.3,1500.2 1935.9,1520.1 C1938.5,1540.0 1940.9,1559.8 1943.9,1579.8 C1947.0,1599.8 1951.2,1622.8 1954.2,1640.0 C1957.2,1657.2 1959.4,1669.7 1961.8,1682.8 C1964.2,1695.9 1966.3,1706.5 1968.7,1718.8 C1971.1,1731.1 1973.7,1744.4 1976.4,1756.4 C1979.1,1768.4 1982.1,1780.1 1984.9,1790.7 C1987.8,1801.3 1990.3,1810.4 1993.5,1819.8 C1996.7,1829.2 2000.1,1838.3 2003.8,1847.2 C2007.5,1856.1 2011.5,1865.2 2015.8,1872.9 C2020.1,1880.6 2024.9,1887.4 2029.5,1893.4 C2034.1,1899.4 2038.7,1904.5 2043.2,1908.8 C2047.8,1913.1 2051.7,1915.9 2056.8,1919.1 C2061.9,1922.2 2066.8,1924.8 2074.0,1927.7 C2081.2,1930.6 2090.6,1934.2 2100.0,1936.2 C2109.4,1938.2 2119.9,1939.0 2130.3,1939.9 C2140.7,1940.8 2148.5,1941.2 2162.4,1941.6 C2176.3,1942.0 2205.2,1942.2 2213.8,1942.3" transform="translate(2.5 2.5)"/>
<path d="M1427.6,1942.6 C1443.0,1942.6 1494.6,1942.6 1520.0,1942.6 C1545.4,1942.6 1565.0,1942.7 1580.0,1942.4 C1595.0,1942.1 1600.1,1941.5 1610.2,1940.8 C1620.3,1940.1 1632.0,1939.4 1640.4,1938.3 C1648.8,1937.2 1654.6,1935.8 1660.5,1934.3 C1666.4,1932.8 1670.9,1931.2 1675.6,1929.3 C1680.3,1927.4 1684.5,1925.3 1688.7,1922.7 C1692.9,1920.1 1697.0,1916.9 1700.7,1913.7 C1704.4,1910.5 1707.8,1907.1 1710.8,1903.6 C1713.8,1900.1 1716.3,1896.8 1718.8,1892.6 C1721.3,1888.4 1723.7,1883.5 1725.9,1878.5 C1728.1,1873.5 1730.1,1867.6 1731.9,1862.4 C1733.7,1857.2 1735.2,1852.7 1736.9,1847.3 C1738.6,1841.9 1740.3,1835.9 1742.0,1830.2 C1743.7,1824.5 1745.0,1819.4 1747.0,1813.1 C1749.0,1806.8 1751.1,1802.4 1753.7,1792.6 C1756.3,1782.8 1759.8,1766.9 1762.7,1754.1 C1765.7,1741.3 1768.8,1728.4 1771.4,1715.6 C1774.0,1702.8 1776.2,1689.8 1778.5,1677.0 C1780.8,1664.2 1783.3,1651.3 1785.5,1638.5 C1787.7,1625.7 1789.6,1613.1 1791.8,1600.0 C1794.0,1586.9 1796.0,1576.5 1798.7,1559.8 C1801.4,1543.1 1805.0,1520.0 1808.0,1500.1 C1811.0,1480.2 1814.5,1455.4 1816.7,1440.4 C1819.0,1425.4 1819.8,1420.8 1821.5,1410.0 C1823.2,1399.2 1824.7,1387.7 1826.6,1375.5 C1828.5,1363.3 1830.8,1349.8 1833.1,1336.9 C1835.3,1324.1 1837.5,1311.2 1840.1,1298.4 C1842.7,1285.6 1846.0,1270.6 1848.5,1259.9 C1851.0,1249.2 1852.8,1241.7 1854.9,1234.2 C1857.0,1226.7 1859.0,1220.7 1861.0,1214.9 C1863.0,1209.1 1865.2,1203.4 1867.0,1199.5 C1868.8,1195.6 1870.6,1193.2 1872.0,1191.5 C1873.4,1189.8 1874.3,1189.0 1875.5,1189.0 C1876.7,1189.0 1877.9,1189.8 1879.3,1191.5 C1880.7,1193.2 1882.6,1195.6 1884.1,1199.5 C1885.6,1203.4 1886.7,1209.1 1888.2,1214.9 C1889.7,1220.7 1891.4,1226.7 1893.1,1234.2 C1894.8,1241.7 1896.2,1249.2 1898.2,1259.9 C1900.2,1270.6 1903.2,1285.6 1905.3,1298.4 C1907.4,1311.2 1909.0,1324.1 1910.8,1336.9 C1912.6,1349.8 1914.4,1365.0 1915.9,1375.5 C1917.4,1386.0 1917.7,1385.8 1919.7,1400.0 C1921.8,1414.2 1925.5,1440.4 1928.2,1460.4 C1930.9,1480.4 1933.3,1500.2 1935.9,1520.1 C1938.5,1540.0 1940.9,1559.8 1943.9,1579.8 C1947.0,1599.8 1951.2,1622.8 1954.2,1640.0 C1957.2,1657.2 1959.4,1669.7 1961.8,1682.8 C1964.2,1695.9 1966.3,1706.5 1968.7,1718.8 C1971.1,1731.1 1973.7,1744.4 1976.4,1756.4 C1979.1,1768.4 1982.1,1780.1 1984.9,1790.7 C1987.8,1801.3 1990.3,1810.4 1993.5,1819.8 C1996.7,1829.2 2000.1,1838.3 2003.8,1847.2 C2007.5,1856.1 2011.5,1865.2 2015.8,1872.9 C2020.1,1880.6 2024.9,1887.4 2029.5,1893.4 C2034.1,1899.4 2038.7,1904.5 2043.2,1908.8 C2047.8,1913.1 2051.7,1915.9 2056.8,1919.1 C2061.9,1922.2 2066.8,1924.8 2074.0,1927.7 C2081.2,1930.6 2090.6,1934.2 2100.0,1936.2 C2109.4,1938.2 2119.9,1939.0 2130.3,1939.9 C2140.7,1940.8 2148.5,1941.2 2162.4,1941.6 C2176.3,1942.0 2205.2,1942.2 2213.8,1942.3" transform="translate(2.5 -2.5)"/>
<path d="M1427.6,1942.6 C1443.0,1942.6 1494.6,1942.6 1520.0,1942.6 C1545.4,1942.6 1565.0,1942.7 1580.0,1942.4 C1595.0,1942.1 1600.1,1941.5 1610.2,1940.8 C1620.3,1940.1 1632.0,1939.4 1640.4,1938.3 C1648.8,1937.2 1654.6,1935.8 1660.5,1934.3 C1666.4,1932.8 1670.9,1931.2 1675.6,1929.3 C1680.3,1927.4 1684.5,1925.3 1688.7,1922.7 C1692.9,1920.1 1697.0,1916.9 1700.7,1913.7 C1704.4,1910.5 1707.8,1907.1 1710.8,1903.6 C1713.8,1900.1 1716.3,1896.8 1718.8,1892.6 C1721.3,1888.4 1723.7,1883.5 1725.9,1878.5 C1728.1,1873.5 1730.1,1867.6 1731.9,1862.4 C1733.7,1857.2 1735.2,1852.7 1736.9,1847.3 C1738.6,1841.9 1740.3,1835.9 1742.0,1830.2 C1743.7,1824.5 1745.0,1819.4 1747.0,1813.1 C1749.0,1806.8 1751.1,1802.4 1753.7,1792.6 C1756.3,1782.8 1759.8,1766.9 1762.7,1754.1 C1765.7,1741.3 1768.8,1728.4 1771.4,1715.6 C1774.0,1702.8 1776.2,1689.8 1778.5,1677.0 C1780.8,1664.2 1783.3,1651.3 1785.5,1638.5 C1787.7,1625.7 1789.6,1613.1 1791.8,1600.0 C1794.0,1586.9 1796.0,1576.5 1798.7,1559.8 C1801.4,1543.1 1805.0,1520.0 1808.0,1500.1 C1811.0,1480.2 1814.5,1455.4 1816.7,1440.4 C1819.0,1425.4 1819.8,1420.8 1821.5,1410.0 C1823.2,1399.2 1824.7,1387.7 1826.6,1375.5 C1828.5,1363.3 1830.8,1349.8 1833.1,1336.9 C1835.3,1324.1 1837.5,1311.2 1840.1,1298.4 C1842.7,1285.6 1846.0,1270.6 1848.5,1259.9 C1851.0,1249.2 1852.8,1241.7 1854.9,1234.2 C1857.0,1226.7 1859.0,1220.7 1861.0,1214.9 C1863.0,1209.1 1865.2,1203.4 1867.0,1199.5 C1868.8,1195.6 1870.6,1193.2 1872.0,1191.5 C1873.4,1189.8 1874.3,1189.0 1875.5,1189.0 C1876.7,1189.0 1877.9,1189.8 1879.3,1191.5 C1880.7,1193.2 1882.6,1195.6 1884.1,1199.5 C1885.6,1203.4 1886.7,1209.1 1888.2,1214.9 C1889.7,1220.7 1891.4,1226.7 1893.1,1234.2 C1894.8,1241.7 1896.2,1249.2 1898.2,1259.9 C1900.2,1270.6 1903.2,1285.6 1905.3,1298.4 C1907.4,1311.2 1909.0,1324.1 1910.8,1336.9 C1912.6,1349.8 1914.4,1365.0 1915.9,1375.5 C1917.4,1386.0 1917.7,1385.8 1919.7,1400.0 C1921.8,1414.2 1925.5,1440.4 1928.2,1460.4 C1930.9,1480.4 1933.3,1500.2 1935.9,1520.1 C1938.5,1540.0 1940.9,1559.8 1943.9,1579.8 C1947.0,1599.8 1951.2,1622.8 1954.2,1640.0 C1957.2,1657.2 1959.4,1669.7 1961.8,1682.8 C1964.2,1695.9 1966.3,1706.5 1968.7,1718.8 C1971.1,1731.1 1973.7,1744.4 1976.4,1756.4 C1979.1,1768.4 1982.1,1780.1 1984.9,1790.7 C1987.8,1801.3 1990.3,1810.4 1993.5,1819.8 C1996.7,1829.2 2000.1,1838.3 2003.8,1847.2 C2007.5,1856.1 2011.5,1865.2 2015.8,1872.9 C2020.1,1880.6 2024.9,1887.4 2029.5,1893.4 C2034.1,1899.4 2038.7,1904.5 2043.2,1908.8 C2047.8,1913.1 2051.7,1915.9 2056.8,1919.1 C2061.9,1922.2 2066.8,1924.8 2074.0,1927.7 C2081.2,1930.6 2090.6,1934.2 2100.0,1936.2 C2109.4,1938.2 2119.9,1939.0 2130.3,1939.9 C2140.7,1940.8 2148.5,1941.2 2162.4,1941.6 C2176.3,1942.0 2205.2,1942.2 2213.8,1942.3" transform="translate(-2.5 2.5)"/>
<path d="M1427.6,1942.6 C1443.0,1942.6 1494.6,1942.6 1520.0,1942.6 C1545.4,1942.6 1565.0,1942.7 1580.0,1942.4 C1595.0,1942.1 1600.1,1941.5 1610.2,1940.8 C1620.3,1940.1 1632.0,1939.4 1640.4,1938.3 C1648.8,1937.2 1654.6,1935.8 1660.5,1934.3 C1666.4,1932.8 1670.9,1931.2 1675.6,1929.3 C1680.3,1927.4 1684.5,1925.3 1688.7,1922.7 C1692.9,1920.1 1697.0,1916.9 1700.7,1913.7 C1704.4,1910.5 1707.8,1907.1 1710.8,1903.6 C1713.8,1900.1 1716.3,1896.8 1718.8,1892.6 C1721.3,1888.4 1723.7,1883.5 1725.9,1878.5 C1728.1,1873.5 1730.1,1867.6 1731.9,1862.4 C1733.7,1857.2 1735.2,1852.7 1736.9,1847.3 C1738.6,1841.9 1740.3,1835.9 1742.0,1830.2 C1743.7,1824.5 1745.0,1819.4 1747.0,1813.1 C1749.0,1806.8 1751.1,1802.4 1753.7,1792.6 C1756.3,1782.8 1759.8,1766.9 1762.7,1754.1 C1765.7,1741.3 1768.8,1728.4 1771.4,1715.6 C1774.0,1702.8 1776.2,1689.8 1778.5,1677.0 C1780.8,1664.2 1783.3,1651.3 1785.5,1638.5 C1787.7,1625.7 1789.6,1613.1 1791.8,1600.0 C1794.0,1586.9 1796.0,1576.5 1798.7,1559.8 C1801.4,1543.1 1805.0,1520.0 1808.0,1500.1 C1811.0,1480.2 1814.5,1455.4 1816.7,1440.4 C1819.0,1425.4 1819.8,1420.8 1821.5,1410.0 C1823.2,1399.2 1824.7,1387.7 1826.6,1375.5 C1828.5,1363.3 1830.8,1349.8 1833.1,1336.9 C1835.3,1324.1 1837.5,1311.2 1840.1,1298.4 C1842.7,1285.6 1846.0,1270.6 1848.5,1259.9 C1851.0,1249.2 1852.8,1241.7 1854.9,1234.2 C1857.0,1226.7 1859.0,1220.7 1861.0,1214.9 C1863.0,1209.1 1865.2,1203.4 1867.0,1199.5 C1868.8,1195.6 1870.6,1193.2 1872.0,1191.5 C1873.4,1189.8 1874.3,1189.0 1875.5,1189.0 C1876.7,1189.0 1877.9,1189.8 1879.3,1191.5 C1880.7,1193.2 1882.6,1195.6 1884.1,1199.5 C1885.6,1203.4 1886.7,1209.1 1888.2,1214.9 C1889.7,1220.7 1891.4,1226.7 1893.1,1234.2 C1894.8,1241.7 1896.2,1249.2 1898.2,1259.9 C1900.2,1270.6 1903.2,1285.6 1905.3,1298.4 C1907.4,1311.2 1909.0,1324.1 1910.8,1336.9 C1912.6,1349.8 1914.4,1365.0 1915.9,1375.5 C1917.4,1386.0 1917.7,1385.8 1919.7,1400.0 C1921.8,1414.2 1925.5,1440.4 1928.2,1460.4 C1930.9,1480.4 1933.3,1500.2 1935.9,1520.1 C1938.5,1540.0 1940.9,1559.8 1943.9,1579.8 C1947.0,1599.8 1951.2,1622.8 1954.2,1640.0 C1957.2,1657.2 1959.4,1669.7 1961.8,1682.8 C1964.2,1695.9 1966.3,1706.5 1968.7,1718.8 C1971.1,1731.1 1973.7,1744.4 1976.4,1756.4 C1979.1,1768.4 1982.1,1780.1 1984.9,1790.7 C1987.8,1801.3 1990.3,1810.4 1993.5,1819.8 C1996.7,1829.2 2000.1,1838.3 2003.8,1847.2 C2007.5,1856.1 2011.5,1865.2 2015.8,1872.9 C2020.1,1880.6 2024.9,1887.4 2029.5,1893.4 C2034.1,1899.4 2038.7,1904.5 2043.2,1908.8 C2047.8,1913.1 2051.7,1915.9 2056.8,1919.1 C2061.9,1922.2 2066.8,1924.8 2074.0,1927.7 C2081.2,1930.6 2090.6,1934.2 2100.0,1936.2 C2109.4,1938.2 2119.9,1939.0 2130.3,1939.9 C2140.7,1940.8 2148.5,1941.2 2162.4,1941.6 C2176.3,1942.0 2205.2,1942.2 2213.8,1942.3" transform="translate(-2.5 -2.5)"/>
</g>
<text transform="translate(1313.06 1964.30) scale(0.9580 1)" font-size="75.5" >0.0</text>
<text transform="translate(1314.98 1835.47) scale(0.9580 1)" font-size="75.5" >0.1</text>
<text transform="translate(1314.98 1706.64) scale(0.9580 1)" font-size="75.5" >0.2</text>
<text transform="translate(1313.06 1577.81) scale(0.9580 1)" font-size="75.5" >0.3</text>
<text transform="translate(1312.11 1448.98) scale(0.9580 1)" font-size="75.5" >0.4</text>
<text transform="translate(1313.06 1320.15) scale(0.9580 1)" font-size="75.5" >0.5</text>
<text transform="translate(1313.06 1191.32) scale(0.9580 1)" font-size="75.5" >0.6</text>
<text transform="translate(1374.85 2035.00) scale(0.9640 1)" font-size="75" >500</text>
<text transform="translate(1570.65 2035.00) scale(0.9640 1)" font-size="75" >550</text>
<text transform="translate(1766.93 2035.00) scale(0.9640 1)" font-size="75" >600</text>
<text transform="translate(1962.73 2035.00) scale(0.9640 1)" font-size="75" >650</text>
<text transform="translate(2157.57 2035.00) scale(0.9640 1)" font-size="75" >700</text>
<text transform="translate(1569.60 2121.50) scale(0.9984 1)" font-size="73" >Wavelength (nm)</text>
<text transform="translate(1289.20 1762.90) rotate(-90) scale(0.9520 1)" font-size="75" >Normalized (A.U.)</text>
<rect x="1438" y="1115.4" width="403" height="135.6" fill="#fff" stroke="#000" stroke-width="2.2"/>
<rect x="1447.2" y="1150.7" width="79.8" height="10.5" fill="#000"/>
<rect x="1447.2" y="1220" width="79.8" height="10.2" fill="#f00"/>
<text transform="translate(1540.96 1168.00) scale(1.0427 1)" font-size="55" >Absorbsance</text>
<text transform="translate(1539.86 1236.90) scale(1.0678 1)" font-size="55" >PL</text>
</svg>
</body></html>
